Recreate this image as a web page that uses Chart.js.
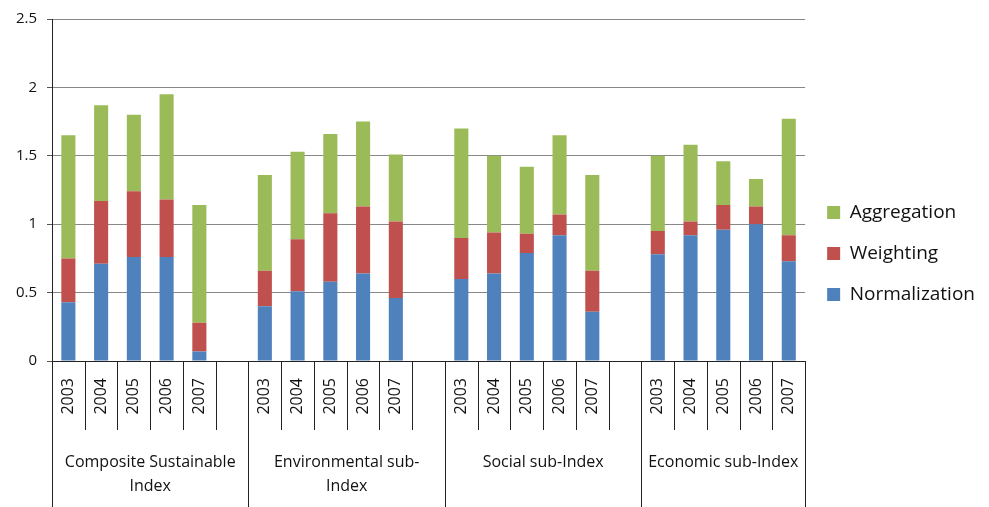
<!DOCTYPE html>
<html>
<head>
<meta charset="utf-8">
<script src="https://cdn.jsdelivr.net/npm/chart.js@4.4.1/dist/chart.umd.min.js"></script>
<style>
  html, body { margin: 0; padding: 0; background: #fff; }
  #wrap { width: 989px; height: 507px; }
</style>
</head>
<body>
<div id="wrap"><canvas id="chart"></canvas></div>
<script>
// years inside each index group
const years = ['2003', '2004', '2005', '2006', '2007'];

// group captions, one entry per line
const groups = [
  ['Composite Sustainable', 'Index'],
  ['Environmental sub-', 'Index'],
  ['Social sub-Index'],
  ['Economic sub-Index']
];

// stacked components per group, 2003..2007
const normalization = [
  [0.43, 0.71, 0.76, 0.76, 0.07],
  [0.40, 0.51, 0.58, 0.64, 0.46],
  [0.60, 0.64, 0.79, 0.92, 0.36],
  [0.78, 0.92, 0.96, 1.00, 0.73]
];
const weighting = [
  [0.32, 0.46, 0.48, 0.42, 0.21],
  [0.26, 0.38, 0.50, 0.49, 0.56],
  [0.30, 0.30, 0.14, 0.15, 0.30],
  [0.17, 0.10, 0.18, 0.13, 0.19]
];
const aggregation = [
  [0.90, 0.70, 0.56, 0.77, 0.86],
  [0.70, 0.64, 0.58, 0.62, 0.49],
  [0.80, 0.56, 0.49, 0.58, 0.70],
  [0.55, 0.56, 0.32, 0.20, 0.85]
];

const yTicks = [0, 0.5, 1, 1.5, 2, 2.5];

// flatten groups into one category axis, with an empty slot between groups
function flatten(arr, blank) {
  const out = [];
  arr.forEach((g, i) => {
    out.push(...g);
    if (i < arr.length - 1) out.push(blank);
  });
  return out;
}

const labels = flatten(groups.map(() => years), '');
const groupStart = [0];
labels.forEach((l, i) => {
  if (l === '') groupStart.push(i + 1);
});

const font = "'Open Sans', 'DejaVu Sans', sans-serif";

// year separators and index captions under the axis
const categoryBoxes = {
  id: 'categoryBoxes',
  afterDraw(chart) {
    const { ctx, chartArea } = chart;
    const x = chart.scales.x;
    const slot = x.getPixelForValue(1) - x.getPixelForValue(0);
    const top = chartArea.bottom;
    const yearBottom = top + 69;
    const bottom = chart.height;
    const n = labels.length;

    ctx.save();
    ctx.strokeStyle = '#222';
    ctx.lineWidth = 1;
    for (let i = 0; i <= n; i++) {
      const px = Math.round(x.getPixelForValue(i) - slot / 2) + 0.5;
      const isGroupEdge = i === 0 || i === n || groupStart.includes(i);
      ctx.beginPath();
      ctx.moveTo(px, top);
      ctx.lineTo(px, isGroupEdge ? bottom : yearBottom);
      ctx.stroke();
    }

    ctx.fillStyle = '#111';
    ctx.font = '16px ' + font;
    ctx.textAlign = 'center';
    ctx.textBaseline = 'middle';
    groups.forEach((lines, gi) => {
      const s = groupStart[gi];
      const e = gi + 1 < groupStart.length ? groupStart[gi + 1] : n;
      const cx = (x.getPixelForValue(s) + x.getPixelForValue(e - 1)) / 2;
      lines.forEach((t, li) => ctx.fillText(t, cx, top + 101 + li * 24));
    });
    ctx.restore();
  }
};

new Chart(document.getElementById('chart'), {
  type: 'bar',
  data: {
    labels: labels,
    datasets: [
      { label: 'Normalization', data: flatten(normalization, null), backgroundColor: '#4f81bd' },
      { label: 'Weighting', data: flatten(weighting, null), backgroundColor: '#c0504d' },
      { label: 'Aggregation', data: flatten(aggregation, null), backgroundColor: '#9bbb59' }
    ]
  },
  options: {
    responsive: true,
    maintainAspectRatio: false,
    animation: false,
    datasets: { bar: { barPercentage: 0.43, categoryPercentage: 1, borderWidth: 0 } },
    layout: { padding: { top: 14, right: 4, left: 0, bottom: 14 } },
    plugins: {
      tooltip: { enabled: false },
      legend: {
        position: 'right',
        reverse: true,
        labels: {
          boxWidth: 13,
          boxHeight: 13,
          padding: 22,
          color: '#111',
          font: { family: font, size: 19 }
        }
      }
    },
    scales: {
      x: {
        stacked: true,
        grid: { display: false, drawTicks: false },
        border: { color: '#222', width: 1 },
        ticks: {
          autoSkip: false,
          minRotation: 90,
          maxRotation: 90,
          padding: 17,
          color: '#111',
          font: { family: font, size: 16 }
        },
        afterFit(scale) { scale.height = 132; }
      },
      y: {
        stacked: true,
        min: 0,
        max: 2.5,
        afterBuildTicks(scale) { scale.ticks = yTicks.map(v => ({ value: v })); },
        grid: { color: '#888', tickLength: 5, tickColor: '#555' },
        border: { color: '#222', width: 1 },
        ticks: {
          padding: 10,
          color: '#111',
          font: { family: font, size: 15 },
          callback: v => String(v)
        },
        afterFit(scale) { scale.width = 52; }
      }
    }
  },
  plugins: [categoryBoxes]
});
</script>
</body>
</html>
